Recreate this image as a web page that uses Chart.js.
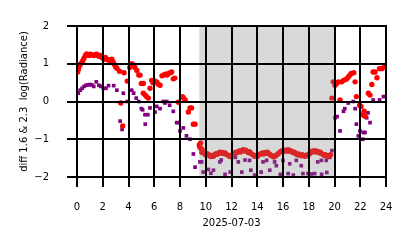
<!DOCTYPE html>
<html>
<head>
<meta charset="utf-8">
<script src="https://cdn.jsdelivr.net/npm/chart.js@4"></script>
<style>
  html, body { margin: 0; padding: 0; background: #fff; }
  #wrap { width: 414px; height: 248px; }
  canvas { width: 414px; height: 248px; display: block; }
</style>
</head>
<body>
<div id="wrap"><canvas id="chart" width="414" height="248"></canvas></div>
<script>
// hours of day (UTC) and diff values
const redHours = [
  0.05, 0.1, 0.15, 0.25, 0.35, 0.45, 0.55, 0.65, 0.75, 0.85, 0.95, 1.05, 1.15, 1.3, 1.4, 1.5,
  1.6, 1.7, 1.8, 1.9, 2.0, 2.1, 2.2, 2.3, 2.4, 2.5, 2.6, 2.7, 2.8, 2.9, 3.0, 3.1,
  3.3, 3.4, 3.55, 3.65, 3.9, 4.1, 4.25, 4.4, 4.5, 4.65, 4.8, 4.9, 5.0, 5.15, 5.15, 5.3,
  5.4, 5.54, 5.67, 5.8, 5.9, 6.0, 6.19, 6.3, 6.45, 6.6, 6.7, 6.85, 7.0, 7.1, 7.25, 7.35,
  7.48, 7.6, 7.87, 8.18, 8.26, 8.4, 8.65, 8.78, 8.9, 9.04, 9.17,
  9.5, 9.55, 9.6, 9.65, 9.7, 9.8, 9.9,
  10.0, 10.1, 10.2, 10.3, 10.4, 10.5, 10.6, 10.7, 10.8, 10.9,
  11.0, 11.1, 11.2, 11.3, 11.4, 11.5, 11.6, 11.7, 11.8, 11.9,
  12.0, 12.1, 12.2, 12.3, 12.4, 12.5, 12.6, 12.7, 12.8, 12.9,
  13.0, 13.1, 13.2, 13.3, 13.4, 13.5, 13.6, 13.7, 13.8, 13.9,
  14.0, 14.1, 14.2, 14.3, 14.4, 14.5, 14.6, 14.7, 14.8, 14.9,
  15.0, 15.1, 15.2, 15.3, 15.4, 15.5, 15.6, 15.7, 15.8, 15.9,
  16.0, 16.1, 16.2, 16.3, 16.4, 16.5, 16.6, 16.7, 16.8, 16.9,
  17.0, 17.1, 17.2, 17.3, 17.4, 17.5, 17.6, 17.7, 17.8, 17.9,
  18.0, 18.1, 18.2, 18.3, 18.4, 18.5, 18.6, 18.7, 18.8, 18.9,
  19.0, 19.1, 19.2, 19.3, 19.4, 19.5, 19.6, 19.7, 19.8, 19.9,
  20.04, 20.17, 20.3, 20.43, 20.56, 20.7, 20.85, 20.95, 21.07, 21.2, 21.3, 21.5, 21.6, 21.7,
  21.95, 22.06, 22.2, 22.3, 22.37, 22.63, 22.76, 22.9, 23.0, 23.15, 23.3, 23.5, 23.67, 23.87, 23.95
]
const redValues = [
  0.78, 0.85, 0.92, 0.98, 1.02, 1.08, 1.15, 1.22, 1.26, 1.24, 1.22, 1.25, 1.24, 1.22, 1.23, 1.25,
  1.23, 1.2, 1.22, 1.18, 1.15, 1.12, 1.17, 1.13, 1.1, 1.1, 1.08, 1.12, 1.05, 0.98, 0.92, 0.88,
  0.8, -0.04, -0.65, 0.76, 0.54, 0.9, 1.0, 0.97, 0.9, 0.82, 0.7, 0.7, 0.48, 0.48, 0.22, 0.17,
  0.13, 0.09, 0.35, 0.56, 0.5, 0.55, 0.52, 0.46, 0.43, 0.68, 0.7, 0.72, 0.7, 0.74, 0.76, 0.78,
  0.6, 0.62, -0.02, 0.13, 0.1, 0.04, -0.28, -0.17, -0.17, -0.6, -0.6,
  -1.15, -1.21, -1.1, -1.25, -1.35, -1.3, -1.38,
  -1.42, -1.38, -1.40, -1.44, -1.46, -1.43, -1.45, -1.41, -1.38, -1.40,
  -1.36, -1.34, -1.37, -1.35, -1.38, -1.36, -1.40, -1.42, -1.44, -1.46,
  -1.43, -1.40, -1.38, -1.35, -1.36, -1.33, -1.31, -1.34, -1.30, -1.28,
  -1.31, -1.29, -1.32, -1.35, -1.33, -1.37, -1.40, -1.42, -1.45, -1.43,
  -1.46, -1.42, -1.40, -1.38, -1.36, -1.39, -1.35, -1.37, -1.34, -1.38,
  -1.41, -1.43, -1.45, -1.47, -1.44, -1.42, -1.39, -1.36, -1.33, -1.31,
  -1.30, -1.32, -1.29, -1.31, -1.28, -1.32, -1.30, -1.33, -1.36, -1.34,
  -1.38, -1.41, -1.39, -1.42, -1.44, -1.41, -1.43, -1.45, -1.42, -1.44,
  -1.40, -1.37, -1.34, -1.31, -1.33, -1.30, -1.34, -1.32, -1.36, -1.34,
  -1.38, -1.40, -1.43, -1.41, -1.44, -1.46, -1.43, -1.41, 0.09, 0.52,
  0.43, 0.48, 0.52, 0.04, 0.52, 0.56, 0.58, 0.6, 0.65, 0.7, 0.74, 0.76, 0.52, 0.13,
  -0.1, -0.13, -0.35, -0.26, -0.39, 0.22, 0.17, 0.45, 0.78, 0.78, 0.63, 0.87, 0.87, 0.91, 0.95
]

const purpleHours = [
  0.1, 0.25, 0.4, 0.55, 0.7, 0.85, 1.0, 1.15, 1.3, 1.5, 1.7, 1.85, 2.05, 2.25, 2.45, 2.85,
  3.1, 3.35, 3.5, 3.6, 3.9, 4.25, 4.4, 4.6, 4.8, 5.0, 5.1, 5.28, 5.3, 5.5, 5.67, 6.06,
  6.2, 6.45, 6.7, 6.83, 6.97, 7.2, 7.48, 7.74, 7.9, 8.0, 8.26, 8.5, 8.78, 9.04, 9.17,
  9.55, 9.68, 9.8, 10.2, 10.4, 10.6, 11.1, 11.2, 11.5, 11.9, 12.3, 12.53, 12.8, 13.05,
  13.4, 13.5, 13.8, 14.3, 14.45, 14.73, 14.97, 15.35, 15.48, 15.8, 16.0, 16.4, 16.52,
  16.8, 17.03, 17.42, 17.55, 17.94, 18.2, 18.46, 18.7, 18.98, 19.0, 19.36, 19.4, 19.63, 19.8,
  20.04, 20.2, 20.43, 20.7, 20.8, 21.07, 21.46, 21.6, 21.7, 21.85, 21.98, 22.2, 22.24,
  22.37, 22.5, 22.6, 22.76, 23.0, 23.5, 23.8
]
const purpleValues = [
  0.22, 0.3, 0.35, 0.4, 0.43, 0.44, 0.45, 0.44, 0.4, 0.52, 0.43, 0.4, 0.35, 0.35, 0.42, 0.42,
  0.3, -0.52, -0.74, 0.22, 0.0, 0.3, 0.22, 0.09, 0.0, -0.19, -0.22, -0.35, -0.6, -0.35, -0.17, -0.28,
  -0.13, -0.19, 0.0, -0.04, 0.0, -0.1, -0.26, -0.56, -0.56, -0.78, -0.7, -0.91, -1.0, -1.39, -1.74,
  -1.6, -1.6, -1.87, -1.8, -1.9, -1.82, -1.6, -1.55, -1.93, -1.87, -1.48, -1.6, -1.87, -1.55,
  -1.56, -1.82, -1.95, -1.87, -1.6, -1.56, -1.82, -1.6, -1.7, -1.93, -1.56, -1.91, -1.65,
  -1.95, -1.56, -1.7, -1.91, -1.91, -1.92, -1.91, -1.6, -1.56, -1.93, -1.56, -1.88, -1.48, -1.3,
  -0.43, -0.4, -0.78, -0.26, -0.19, -0.04, 0.0, -0.19, -0.6, -0.91, -0.78, -1.0, -0.82,
  -0.82, -0.43, -0.3, -0.56, 0.04, 0.04, 0.13
]

const nightStart = 9.5
const nightEnd = 20
const xStep = 2
const yStep = 1

const font = { family: 'DejaVu Sans', size: 10 }

// grey night band over the points, then black grid + outside ticks on top
const overlay = {
  id: 'overlay',
  afterDatasetsDraw(chart) {
    const { ctx, chartArea: a, scales: { x, y } } = chart
    const x0 = x.getPixelForValue(nightStart)
    const x1 = x.getPixelForValue(nightEnd)
    ctx.save()
    ctx.fillStyle = 'rgba(128,128,128,0.3)'
    ctx.fillRect(x0, a.top, x1 - x0, a.bottom - a.top)

    ctx.fillStyle = '#000'
    ctx.beginPath()
    for (let v = 0; v <= 24; v += xStep) {
      const px = Math.round(x.getPixelForValue(v))
      ctx.rect(px - 1, a.top - 1, 2, a.bottom - a.top + 11)
    }
    for (let v = -2; v <= 2; v += yStep) {
      const py = Math.round(y.getPixelForValue(v))
      ctx.rect(a.left - 10, py - 1, a.right - a.left + 11, 2)
    }
    ctx.fill()
    ctx.restore()
  }
}

const pts = (xs, ys) => xs.map((h, i) => ({ x: h, y: ys[i] }))

new Chart(document.getElementById('chart'), {
  type: 'scatter',
  data: {
    datasets: [
      {
        data: pts(redHours, redValues),
        pointStyle: 'circle',
        pointRadius: 2.7,
        borderWidth: 0,
        backgroundColor: '#ff0000'
      },
      {
        data: pts(purpleHours, purpleValues),
        pointStyle: 'rect',
        pointRadius: 2.6,
        borderWidth: 0,
        backgroundColor: '#800080'
      }
    ]
  },
  options: {
    responsive: false,
    animation: false,
    devicePixelRatio: 1,
    layout: { padding: { left: 0, right: 28, top: 23, bottom: 0 } },
    plugins: { legend: { display: false }, tooltip: { enabled: false } },
    scales: {
      x: {
        type: 'linear',
        min: 0,
        max: 24,
        afterFit: s => { s.height = 71 },
        ticks: { stepSize: xStep, font, color: '#000', padding: 16, maxRotation: 0, autoSkip: false },
        grid: { display: false },
        border: { display: false },
        title: { display: true, text: '2025-07-03', font, color: '#000', padding: { top: 0, bottom: 19 } }
      },
      y: {
        type: 'linear',
        min: -2,
        max: 2,
        afterFit: s => { s.width = 77 },
        ticks: { stepSize: yStep, font, color: '#000', padding: 20, callback: v => String(v).replace('-', '\u2212') },
        grid: { display: false },
        border: { display: false },
        title: { display: true, text: 'diff 1.6 & 2.3  log(Radiance)', font, color: '#000', padding: { top: 18, bottom: 0 } }
      }
    }
  },
  plugins: [overlay]
})
</script>
</body>
</html>
